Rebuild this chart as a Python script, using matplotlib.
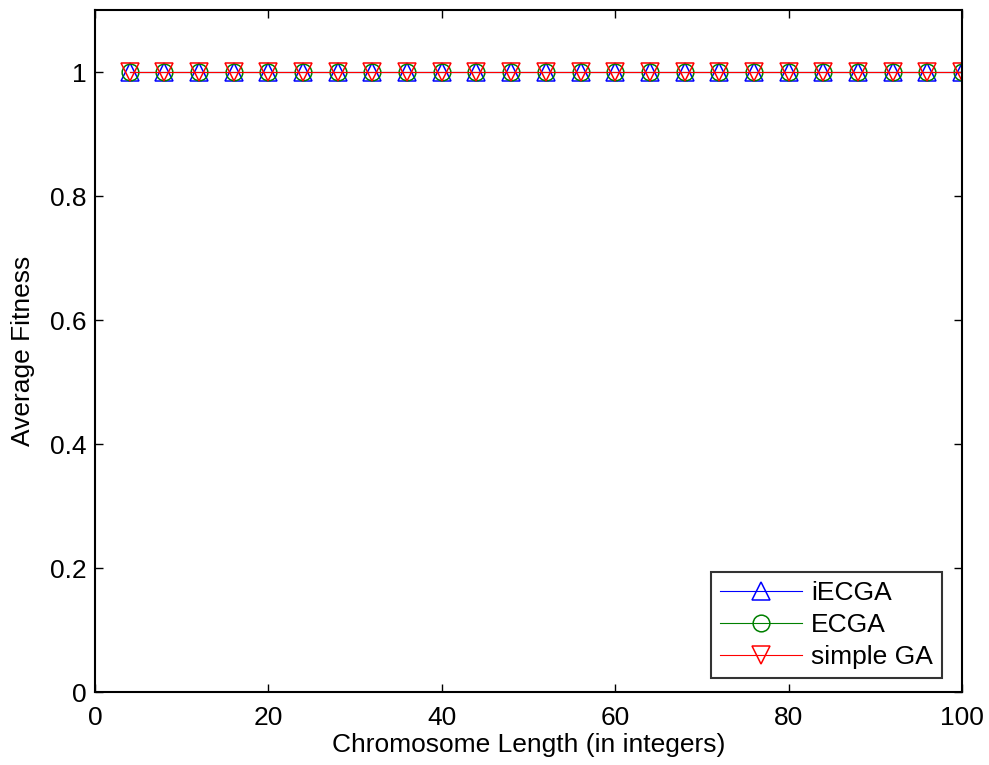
import numpy as np
import matplotlib
matplotlib.use('Agg')
import matplotlib.pyplot as plt

plt.rcParams['font.family'] = ['Liberation Sans', 'DejaVu Sans']

# data
lengths = [4, 8, 12, 16, 20, 24, 28, 32, 36, 40, 44, 48, 52, 56, 60,
           64, 68, 72, 76, 80, 84, 88, 92, 96, 100]
iecga = [1.0] * len(lengths)
ecga = [1.0] * len(lengths)
simple_ga = [1.0] * len(lengths)

fs = 19

fig = plt.figure(figsize=(9.89, 7.65), dpi=100)
# axes box: x 95..962 px, y 10..692 px
ax = fig.add_axes([95 / 989, 1 - 692 / 765, 867 / 989, 682 / 765])

ax.plot(lengths, iecga, color='blue', marker='^', mfc='none', ms=13.5, lw=0.8, mew=1.1, label='iECGA')
ax.plot(lengths, ecga, color=(0, 0.5, 0), marker='o', mfc='none', ms=12, lw=0.8, mew=1.1, label='ECGA')
ax.plot(lengths, simple_ga, color='red', marker='v', mfc='none', ms=13.5, lw=0.8, mew=1.1, label='simple GA')

ax.set_xlim(0, 100)
ax.set_ylim(0, 1.1)
ax.set_xticks([0, 20, 40, 60, 80, 100])
ax.set_yticks([0, 0.2, 0.4, 0.6, 0.8, 1])
ax.set_yticklabels(['0', '0.2', '0.4', '0.6', '0.8', '1'])
ax.tick_params(direction='in', top=True, right=True, labelsize=fs, length=6, width=1)
ax.tick_params(axis='x', pad=10)
ax.tick_params(axis='y', pad=6)
for s in ax.spines.values():
    s.set_linewidth(1.5)

ax.set_xlabel('Chromosome Length (in integers)', fontsize=fs, labelpad=2)
ax.set_ylabel('Average Fitness', fontsize=fs, labelpad=11)

leg = ax.legend(loc='lower right', bbox_to_anchor=(0.977, 0.02), fontsize=fs,
                frameon=True, fancybox=False, edgecolor='black', handlelength=3.1,
                borderaxespad=0, labelspacing=0.3, handletextpad=0.35, borderpad=0.35)
leg.get_frame().set_linewidth(1.5)

fig.savefig('out.png', dpi=100)
